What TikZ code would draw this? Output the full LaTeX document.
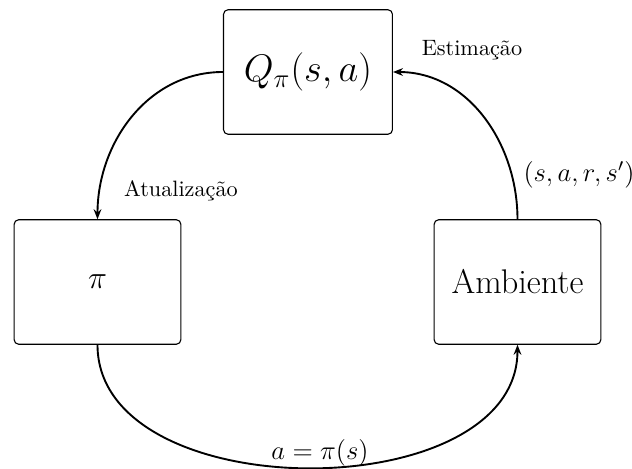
\documentclass[tikz,border=0pt]{standalone}
\usepackage{fontspec}
\usetikzlibrary{arrows.meta}
\begin{document}
\begin{tikzpicture}[x=0.45pt,y=-0.45pt,
  box/.style={draw, rounded corners=2pt, line width=0.5pt, minimum width=75pt, minimum height=56pt, inner sep=0pt},
  conn/.style={line width=0.85pt, -{Stealth[length=4.5pt,width=3.5pt]}},
  lbl/.style={inner sep=0pt}]
\useasboundingbox (0,0) rectangle (632,469);
\node[box, minimum width=76pt] (q) at (308,72) {\LARGE $Q_\pi(s,a)$};
\node[box] (pi) at (97.5,282) {\Large $\pi$};
\node[box] (env) at (517.5,282) {\fontsize{15.4}{18}\selectfont Ambiente};
\draw[conn] (q.west) to[out=180,in=90] (pi.north);
\draw[conn] (env.north) to[out=90,in=0] (q.east);
\draw[conn] (pi.south) to[out=-90,in=-90] (env.south);
\node[lbl] (est) at (472,50) {Estimação};
\node[lbl] (atu) at (181,191) {Atualização};
\node[lbl] (sars) at (579,175) {\large $(s,a,r,s')$};
\node[lbl] (api) at (320,453) {\large $a=\pi(s)$};
\end{tikzpicture}
\end{document}
